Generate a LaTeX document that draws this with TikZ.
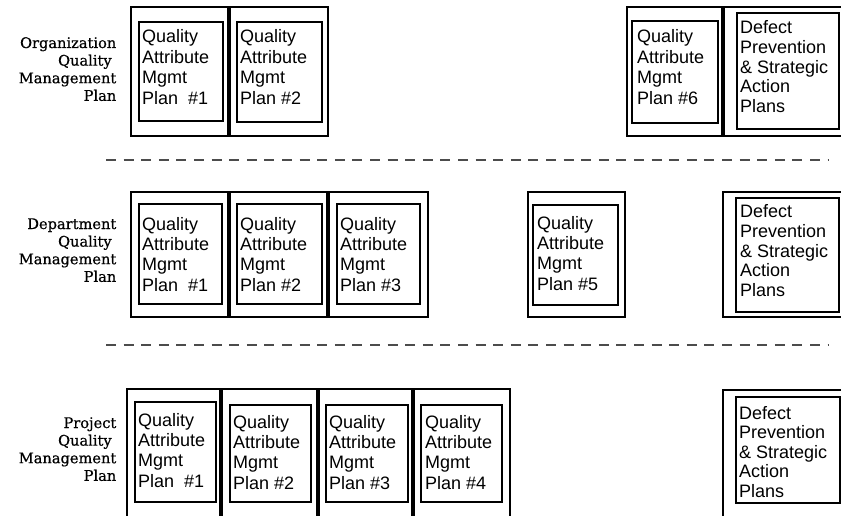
\documentclass[tikz,border=0pt]{standalone}
\usepackage{fontspec}
\newfontfamily\boxfont{Liberation Sans}
\newfontfamily\lblfont[FakeBold=0.6]{DejaVu Serif}
\tikzset{
  outerbox/.style={draw=black, line width=1.5pt, inner sep=0pt, outer sep=0pt},
  innerbox/.style={draw=black, line width=1.6pt, inner sep=0pt, outer sep=0pt},
  boxtext/.style={anchor=base west, inner sep=0pt, font=\boxfont\fontsize{18}{20.4}\selectfont},
  deftext/.style={anchor=base west, inner sep=0pt, font=\boxfont\fontsize{18}{19.6}\selectfont},
  lbltext/.style={anchor=base east, inner sep=0pt, font=\lblfont\fontsize{14.6}{17.6}\selectfont},
  sepline/.style={line width=1.3pt, draw=black!70, dash pattern=on 10pt off 7.6pt}
}
\newcommand\bx[6]{\node[#1, minimum width={#5-#3}, minimum height={#6-#4}] (#2) at ({(#3+#5)/2},{(#4+#6)/2}) {};}
\newcommand\qtext[1]{\vtop{\hbox{Quality}\hbox{Attribute}\hbox{Mgmt}\hbox{#1}}}
\newcommand\dtext{\vtop{\hbox{Defect}\hbox{Prevention}\hbox{\& Strategic}\hbox{Action}\hbox{Plans}}}
\newcommand\ltext[1]{\vtop{\hbox to 0pt{\hss #1}\hbox to 0pt{\hss Quality\ }\hbox to 0pt{\hss Management}\hbox to 0pt{\hss Plan}}}
\begin{document}
\begin{tikzpicture}[x=1pt,y=-1pt]
\useasboundingbox (0,0) rectangle (841,516);
\clip (0,0) rectangle (841,516);
% ---------- Organization ----------
\node[lbltext] (lorg) at (117,48) {\ltext{Organization}};
\bx{outerbox}{oA}{131}{7}{228}{136}
\bx{outerbox}{oB}{230}{7}{328}{136}
\bx{outerbox}{oF}{627}{7}{722}{136}
\bx{outerbox}{oG}{724}{7}{870}{136}
\bx{innerbox}{ioA}{139}{22}{223}{121}
\bx{innerbox}{ioB}{237}{22}{322}{122}
\bx{innerbox}{ioF}{632}{21}{718}{123}
\bx{innerbox}{ioG}{737}{13}{839}{129}
\node[boxtext] (toA) at (142,43) {\qtext{Plan\ \ \#1}};
\node[boxtext] (toB) at (240,43) {\qtext{Plan \#2}};
\node[boxtext] (toF) at (637,43) {\qtext{Plan \#6}};
\node[deftext] (toG) at (740,34) {\dtext};
% ---------- separator 1 ----------
\coordinate (s1a) at (106,160);
\coordinate (s1b) at (828,160);
\draw[sepline] (s1a) -- (s1b);
% ---------- Department ----------
\node[lbltext] (ldep) at (117,229) {\ltext{Department}};
\bx{outerbox}{dA}{131}{192}{228}{317}
\bx{outerbox}{dB}{230}{192}{327}{317}
\bx{outerbox}{dC}{329}{192}{428}{317}
\bx{outerbox}{dE}{528}{192}{625}{317}
\bx{outerbox}{dG}{723}{192}{870}{317}
\bx{innerbox}{idA}{139}{204}{222}{304}
\bx{innerbox}{idB}{237}{204}{322}{304}
\bx{innerbox}{idC}{337}{204}{420}{304}
\bx{innerbox}{idE}{533}{205}{618}{305}
\bx{innerbox}{idG}{736}{198}{839}{312}
\node[boxtext] (tdA) at (142,230) {\qtext{Plan\ \ \#1}};
\node[boxtext] (tdB) at (240,230) {\qtext{Plan \#2}};
\node[boxtext] (tdC) at (340,230) {\qtext{Plan \#3}};
\node[boxtext] (tdE) at (537,229) {\qtext{Plan \#5}};
\node[deftext] (tdG) at (740,218) {\dtext};
% ---------- separator 2 ----------
\coordinate (s2a) at (106,345);
\coordinate (s2b) at (828,345);
\draw[sepline] (s2a) -- (s2b);
% ---------- Project ----------
\node[lbltext] (lpro) at (117,428) {\ltext{Project}};
\bx{outerbox}{pA}{127}{389}{220}{530}
\bx{outerbox}{pB}{222}{389}{317}{530}
\bx{outerbox}{pC}{319}{389}{412}{530}
\bx{outerbox}{pD}{414}{389}{510}{530}
\bx{outerbox}{pG}{723}{390}{870}{530}
\bx{innerbox}{ipA}{135}{402}{216}{502}
\bx{innerbox}{ipB}{230}{405}{311}{502}
\bx{innerbox}{ipC}{326}{405}{408}{502}
\bx{innerbox}{ipD}{421}{405}{502}{502}
\bx{innerbox}{ipG}{736}{397}{840}{503}
\node[boxtext] (tpA) at (138,426) {\qtext{Plan\ \ \#1}};
\node[boxtext] (tpB) at (233,428) {\qtext{Plan \#2}};
\node[boxtext] (tpC) at (329,428) {\qtext{Plan \#3}};
\node[boxtext] (tpD) at (425,428) {\qtext{Plan \#4}};
\node[deftext] (tpG) at (739,419) {\dtext};
\end{tikzpicture}
\end{document}
